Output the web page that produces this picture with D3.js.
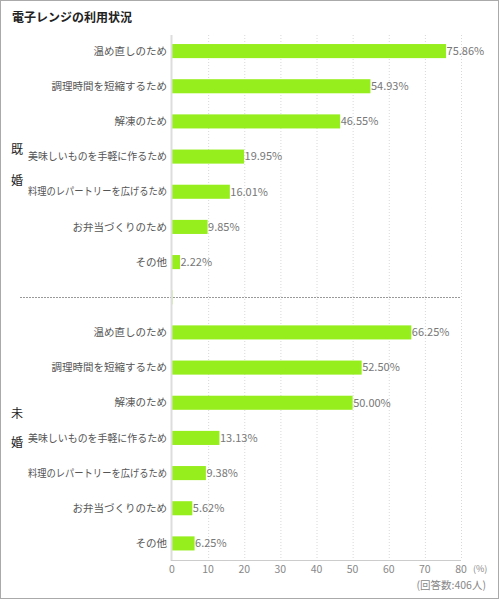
<!DOCTYPE html>
<html><head><meta charset="utf-8">
<script src="https://cdn.jsdelivr.net/npm/d3@7"></script>
<style>body{margin:0;background:#fff;}svg{display:block;font-family:"Noto Sans CJK JP","Noto Sans",sans-serif;}</style>
</head><body><svg id="c" width="500" height="600"></svg>
<script>
const title = "電子レンジの利用状況";
const categories = ["温め直しのため","調理時間を短縮するため","解凍のため","美味しいものを手軽に作るため","料理のレパートリーを広げるため","お弁当づくりのため","その他"];
const groups = ["既婚","未婚"];
const marriedValues = [75.86, 54.93, 46.55, 19.95, 16.01, 9.85, 2.22];
const singleValues = [66.25, 52.50, 50.00, 13.13, 9.38, 5.62, 6.25];
const xTicks = [0,10,20,30,40,50,60,70,80];
const unitLabel = "(%)";
const noteLabel = "(回答数:406人)";

const rows = [];
categories.forEach((c,i)=>rows.push({key:"m"+i, label:c, v:marriedValues[i]}));
rows.push({key:"sep", label:"", v:0, sep:true});
categories.forEach((c,i)=>rows.push({key:"s"+i, label:c, v:singleValues[i]}));

const svg = d3.select("#c");
svg.append("rect").attr("x",0.5).attr("y",0.5).attr("width",498).attr("height",598)
  .attr("fill","#fff").attr("stroke","#aaa");

svg.append("text").attr("x",12).attr("y",22).attr("font-size",12).attr("font-weight","bold")
  .attr("fill","#222").text(title);

const x = d3.scaleLinear().domain([0,80]).range([172,461]);
const y = d3.scaleBand().domain(rows.map(r=>r.key)).range([33.5,561]).paddingInner(0.6).paddingOuter(0.3);

// gridlines
svg.append("g").selectAll("line").data(xTicks.filter(t=>t>0)).join("line")
  .attr("x1",d=>x(d)+0.5).attr("x2",d=>x(d)+0.5).attr("y1",35).attr("y2",560)
  .attr("stroke","#d8d8d8").attr("stroke-dasharray","1,2");

// separator
const sepY = y("sep") + y.bandwidth()/2;
svg.append("line").attr("x1",20).attr("x2",461).attr("y1",Math.round(sepY)+0.5).attr("y2",Math.round(sepY)+0.5)
  .attr("stroke","#999").attr("stroke-dasharray","2,1");

// bars
const dataRows = rows.filter(r=>!r.sep);
svg.append("g").selectAll("rect").data(dataRows).join("rect")
  .attr("x",x(0)).attr("y",d=>y(d.key)).attr("width",d=>x(d.v)-x(0)).attr("height",y.bandwidth())
  .attr("fill","#97ee1d");
svg.append("rect").attr("x",x(0)).attr("y",y("sep")).attr("width",1).attr("height",y.bandwidth()).attr("fill","#d6f7a8");

// y axis line
svg.append("line").attr("x1",171.5).attr("x2",171.5).attr("y1",35).attr("y2",561).attr("stroke","#ddd").attr("stroke-width",2);
// x axis line
svg.append("line").attr("x1",171).attr("x2",461).attr("y1",560.5).attr("y2",560.5).attr("stroke","#ccc");

// category labels
svg.append("g").selectAll("text").data(dataRows).join("text")
  .attr("x",167).attr("y",d=>y(d.key)+y.bandwidth()/2).attr("dy","0.35em")
  .attr("text-anchor","end").attr("font-size",10.5).attr("fill","#555").text(d=>d.label)
  .each(function(){
    const w = this.getComputedTextLength();
    if (w > 139) d3.select(this).attr("textLength",139).attr("lengthAdjust","spacingAndGlyphs");
  });

// value labels
svg.append("g").selectAll("text").data(dataRows).join("text")
  .attr("x",d=>x(d.v)+0.5).attr("y",d=>y(d.key)+y.bandwidth()/2).attr("dy","0.35em")
  .attr("font-size",11).attr("fill","#777").text(d=>d.v.toFixed(2)+"%");

// group labels
const c1 = y("m3") + y.bandwidth()/2;
const c2 = y("s3") + y.bandwidth()/2;
const glPos = [[c1-7, c1+24],[c2-24, c2+5]];
groups.forEach((g,i)=>{
  svg.append("text").attr("x",11).attr("y",glPos[i][0]).attr("dy","0.35em").attr("font-size",12).attr("fill","#222").text(g[0]);
  svg.append("text").attr("x",11).attr("y",glPos[i][1]).attr("dy","0.35em").attr("font-size",12).attr("fill","#222").text(g[1]);
});

// x ticks
svg.append("g").selectAll("text").data(xTicks).join("text")
  .attr("x",d=>x(d)).attr("y",573).attr("text-anchor","middle")
  .attr("font-size",10.5).attr("fill","#888").text(d=>d);
svg.append("text").attr("x",473).attr("y",572).attr("font-size",9).attr("fill","#888").text(unitLabel);
svg.append("text").attr("x",486).attr("y",589).attr("text-anchor","end").attr("font-size",10.5).attr("fill","#888").text(noteLabel);
</script></body></html>
